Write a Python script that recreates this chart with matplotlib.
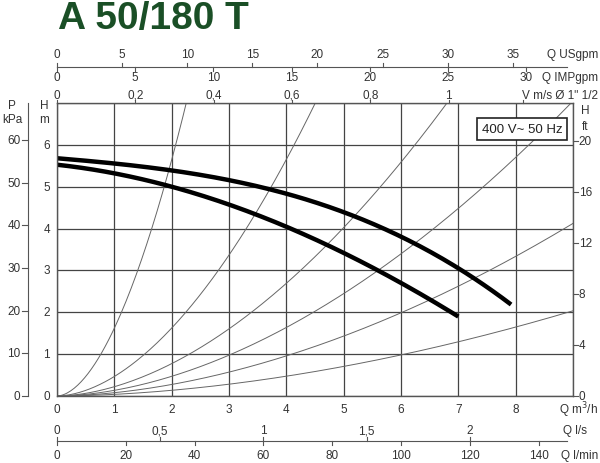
import numpy as np
import matplotlib
matplotlib.use("Agg")
import matplotlib.pyplot as plt

plt.rcParams.update({"font.family": ["Liberation Sans", "DejaVu Sans"], "font.size": 9})

# pump curves (Q m3/h, H m)
q_hi = [0, 1, 2, 3, 4, 5, 6, 7, 7.92]
h_hi = [5.65, 5.6, 5.42, 5.12, 4.8, 4.38, 3.84, 3.08, 2.16]
q_lo = [0, 1, 2, 3, 4, 5, 6, 7]
h_lo = [5.5, 5.36, 5.02, 4.56, 3.98, 3.42, 2.78, 1.86]
# system curves H = k * Q^1.8
sys_k = [1.62, 0.466, 0.222, 0.135, 0.079, 0.039]
sys_exp = 1.8

usgpm_ticks = [0, 5, 10, 15, 20, 25, 30, 35]
impgpm_ticks = [0, 5, 10, 15, 20, 25, 30]
v_ticks = [0, 0.2, 0.4, 0.6, 0.8, 1.0]
v_labels = ["0", "0,2", "0,4", "0,6", "0,8", "1"]
ls_ticks = [0, 0.5, 1, 1.5, 2]
ls_labels = ["0", "0,5", "1", "1,5", "2"]
lmin_ticks = [0, 20, 40, 60, 80, 100, 120, 140]
kpa_ticks = [0, 10, 20, 30, 40, 50, 60]
ft_ticks = [0, 4, 8, 12, 16, 20]

W, H = 600, 464
top_px, bot_px, left_px, right_px = 104, 397, 57, 573
fig = plt.figure(figsize=(6, 4.64), dpi=100)
ax = fig.add_axes([left_px / W, 1 - bot_px / H, (right_px - left_px) / W, (bot_px - top_px) / H])
ax.set_xlim(0, 9)
ax.set_ylim(0, 7)
ppm = (bot_px - top_px) / 7.0


def yd(py):
    return (bot_px - py) / ppm


def xd(px):
    return (px - left_px) / ((right_px - left_px) / 9.0)


ax.set_xticks(range(10))
ax.set_yticks(range(8))
ax.grid(True, color="#444444", lw=0.9)
ax.tick_params(length=0, labelbottom=False, labelleft=False)
for s in ax.spines.values():
    s.set_color("#555555")
    s.set_linewidth(1.0)

qq = np.linspace(0.0, 9, 300)
for k in sys_k:
    ax.plot(qq, k * qq ** sys_exp, color="#666666", lw=0.7)
for q, h in ((q_hi, h_hi), (q_lo, h_lo)):
    c = np.polyfit(q, h, 3)
    xs = np.linspace(q[0], q[-1], 200)
    ax.plot(xs, np.polyval(c, xs), color="black", lw=3.2, solid_capstyle="butt")

kw = dict(clip_on=False, color="#555555", lw=0.8)
tc = "#333333"
fs = 8.5
xr = xd(598)

# bottom m3/h labels
for q in range(9):
    ax.text(q, yd(410), str(q), ha="center", va="center", fontsize=fs, color=tc)
ax.text(xr, yd(410), "Q m$^3$/h", ha="right", va="center", fontsize=fs, color=tc)

# l/s and l/min scale
yl = yd(442)
ax.plot([0, xd(567)], [yl, yl], **kw)
for v, lab in zip(ls_ticks, ls_labels):
    x = v * 3.6
    ax.plot([x, x], [yl, yl + 0.1], **kw)
    ax.text(x, yd(431), lab, ha="center", va="center", fontsize=fs, color=tc)
ax.text(xd(587), yd(431), "Q l/s", ha="right", va="center", fontsize=fs, color=tc)
for v in lmin_ticks:
    x = v * 0.06
    ax.plot([x, x], [yl, yl - 0.1], **kw)
    ax.text(x, yd(456), str(v), ha="center", va="center", fontsize=fs, color=tc)
ax.text(xr, yd(456), "Q l/min", ha="right", va="center", fontsize=fs, color=tc)

# top USgpm / IMPgpm scale
yt = yd(68)
ax.plot([0, xd(567)], [yt, yt], **kw)
for v in usgpm_ticks:
    x = v * 0.2271
    ax.plot([x, x], [yt, yt + 0.1], **kw)
    ax.text(x, yd(55), str(v), ha="center", va="center", fontsize=fs, color=tc)
ax.text(xr, yd(55), "Q USgpm", ha="right", va="center", fontsize=fs, color=tc)
for v in impgpm_ticks:
    x = v * 0.2728
    ax.plot([x, x], [yt, yt - 0.1], **kw)
    ax.text(x, yd(78), str(v), ha="center", va="center", fontsize=fs, color=tc)
ax.text(xr, yd(78), "Q IMPgpm", ha="right", va="center", fontsize=fs, color=tc)

# velocity on top edge
for v, lab in zip(v_ticks + [1.19], v_labels + [""]):
    x = v * 6.83
    ax.plot([x, x], [7, 7.08], **kw)
    if lab:
        ax.text(x, yd(96), lab, ha="center", va="center", fontsize=fs, color=tc)
ax.text(xr, yd(96), "V m/s Ø 1\" 1/2", ha="right", va="center", fontsize=fs, color=tc)

# left kPa axis
xk = xd(28)
ax.plot([xk, xk], [0, yd(104)], **kw)
for p in kpa_ticks:
    h = p / 9.81
    ax.plot([xk - 0.1, xk], [h, h], **kw)
    ax.text(xk - 0.13, h, str(p), ha="right", va="center", fontsize=fs, color=tc)
ax.text(xd(12), yd(106), "P", ha="center", va="center", fontsize=fs, color=tc)
ax.text(xd(12), yd(120), "kPa", ha="center", va="center", fontsize=fs, color=tc)
for h in range(7):
    ax.text(-0.12, h, str(h), ha="right", va="center", fontsize=fs, color=tc)
ax.text(xd(44), yd(106), "H", ha="center", va="center", fontsize=fs, color=tc)
ax.text(xd(44), yd(120), "m", ha="center", va="center", fontsize=fs, color=tc)

# right ft axis
for f in ft_ticks:
    h = f / 3.281
    ax.plot([9, 9.08], [h, h], **kw)
    ax.text(9.1, h, str(f), ha="left", va="center", fontsize=fs, color=tc)
ax.text(xd(585), yd(111), "H", ha="center", va="center", fontsize=fs, color=tc)
ax.text(xd(585), yd(127), "ft", ha="center", va="center", fontsize=fs, color=tc)

ax.text(xd(522), yd(130), "400 V~ 50 Hz", ha="center", va="center", fontsize=9.5, color="#222222",
        bbox=dict(boxstyle="square,pad=0.35", fc="white", ec="#222222", lw=1.2), zorder=5)

fig.text(58 / W, 1 - 19 / H, "A 50/180 T", ha="left", va="center", fontsize=28, fontweight="bold",
         color="#1a4f26")

fig.savefig("out.png", dpi=100)
